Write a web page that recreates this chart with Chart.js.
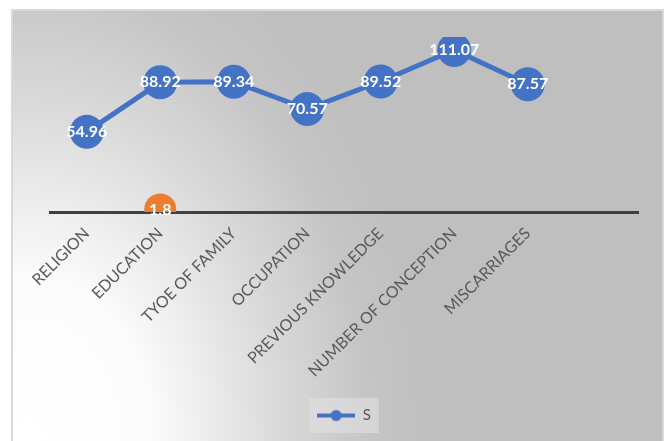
<!DOCTYPE html>
<html>
<head>
<meta charset="utf-8">
<script src="https://cdn.jsdelivr.net/npm/chart.js@4"></script>
<style>
html,body{margin:0;padding:0;background:#fff;}
#wrap{width:667px;height:441px;position:relative;}
</style>
</head>
<body>
<div id="wrap"><canvas id="c" width="667" height="441"></canvas></div>
<script>
const categories = ["RELIGION","EDUCATION","TYOE OF FAMILY","OCCUPATION","PREVIOUS KNOWLEDGE","NUMBER OF CONCEPTION","MISCARRIAGES",""];
const sValues = [54.96, 88.92, 89.34, 70.57, 89.52, 111.07, 87.57, null];
const extraValues = [null, 1.8, null, null, null, null, null, null];
const seriesName = "S";

const BLUE = "#4472C4", ORANGE = "#ED7D31";

const marker = document.createElement('canvas');
marker.width = 38; marker.height = 14;
(function(){
  const m = marker.getContext('2d');
  m.strokeStyle = BLUE; m.lineWidth = 4;
  m.beginPath(); m.moveTo(0,7); m.lineTo(38,7); m.stroke();
  m.fillStyle = BLUE; m.beginPath(); m.arc(19,7,5.5,0,Math.PI*2); m.fill();
})();

const bgPlugin = {
  id: 'bg',
  beforeDraw(chart){
    const ctx = chart.ctx;
    ctx.save();
    ctx.fillStyle = '#ffffff';
    ctx.fillRect(0,0,chart.width,chart.height);
    ctx.save();
    ctx.beginPath();
    ctx.rect(12,10,651,431);
    ctx.clip();
    ctx.translate(30,441);
    ctx.scale(1,1.35);
    const g = ctx.createRadialGradient(0,0,0,0,0,400);
    g.addColorStop(0,'#ffffff');
    g.addColorStop(0.3,'#fcfcfc');
    g.addColorStop(0.6,'#dcdcdc');
    g.addColorStop(0.85,'#c5c5c5');
    g.addColorStop(1,'#bfbfbf');
    ctx.fillStyle = g;
    ctx.fillRect(-100,-400,800,400);
    ctx.restore();
    ctx.strokeStyle = '#d9d9d9';
    ctx.lineWidth = 2;
    ctx.beginPath();
    ctx.moveTo(12,441); ctx.lineTo(12,10); ctx.lineTo(663,10); ctx.lineTo(663,441);
    ctx.stroke();
    const lg = chart.legend;
    if (lg && lg.legendHitBoxes && lg.legendHitBoxes.length){
      const hb = lg.legendHitBoxes[0];
      ctx.fillStyle = 'rgba(225,225,225,0.6)';
      ctx.fillRect(hb.left-8, hb.top-10, hb.width+16, hb.height+20);
    }
    ctx.restore();
  }
};

const labelPlugin = {
  id: 'pointLabels',
  afterDatasetsDraw(chart){
    const ctx = chart.ctx;
    ctx.save();
    ctx.fillStyle = '#ffffff';
    ctx.font = 'bold 16px Lato';
    ctx.textAlign = 'center';
    ctx.textBaseline = 'middle';
    chart.data.datasets.forEach((ds,di)=>{
      const meta = chart.getDatasetMeta(di);
      meta.data.forEach((pt,i)=>{
        const v = ds.data[i];
        if (v === null || v === undefined) return;
        ctx.fillText(String(v), pt.x, pt.y);
      });
    });
    ctx.restore();
  }
};

new Chart(document.getElementById('c'), {
  type: 'line',
  data: {
    labels: categories,
    datasets: [
      { label: seriesName, data: sValues, borderColor: BLUE, backgroundColor: BLUE,
        borderWidth: 5, pointRadius: 17, pointHoverRadius: 17, pointBorderWidth: 0,
        pointBackgroundColor: BLUE, tension: 0 },
      { label: 'extra', data: extraValues, borderColor: ORANGE, backgroundColor: ORANGE,
        borderWidth: 0, pointRadius: 16, pointBorderWidth: 0, pointBackgroundColor: ORANGE, showLine: false }
    ]
  },
  options: {
    responsive: false,
    animation: false,
    events: [],
    layout: { padding: { top: 37, left: 50, right: 29, bottom: 8 } },
    plugins: {
      tooltip: { enabled: false },
      legend: {
        position: 'bottom',
        labels: {
          color: '#595959',
          font: { family: 'Lato', size: 15 },
          padding: 10,
          usePointStyle: true,
          pointStyleWidth: 38,
          boxHeight: 14,
          generateLabels: (chart) => [{ text: seriesName, pointStyle: marker, datasetIndex: 0, fontColor: '#595959', lineWidth: 0, strokeStyle: 'transparent', fillStyle: BLUE }]
        }
      }
    },
    scales: {
      x: {
        offset: true,
        grid: { display: false, drawTicks: false },
        border: { display: true, color: '#404040', width: 3 },
        ticks: { autoSkip: false, minRotation: 45, maxRotation: 45, color: '#595959',
                 font: { family: 'Lato', size: 16 }, padding: 12 },
        afterFit: (s) => { s.height = 186; }
      },
      y: {
        display: false,
        min: 0, max: 120
      }
    }
  },
  plugins: [bgPlugin, labelPlugin]
});
</script>
</body>
</html>
